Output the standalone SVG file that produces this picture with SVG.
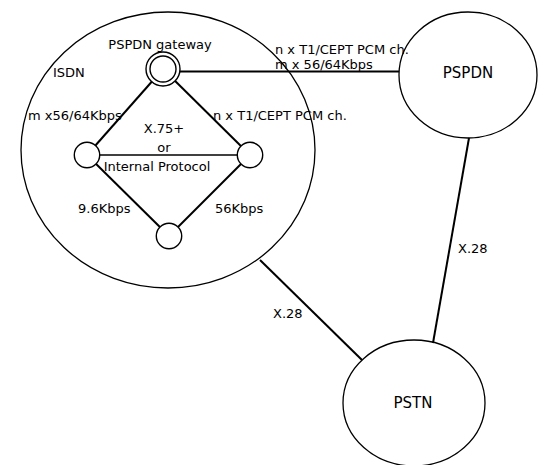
<svg xmlns="http://www.w3.org/2000/svg" width="545" height="465" viewBox="0 0 545 465">
<style>
.bg{fill:#fff}
.net{fill:none;stroke:#000;stroke-width:1.3}
.node{fill:#fff;stroke:#000;stroke-width:1.4}
.link{stroke:#000;stroke-width:2;fill:none}
.thin{stroke:#000;stroke-width:1.3;fill:none}
text{font-family:"DejaVu Sans",sans-serif;font-size:13px;fill:#000}
.big{font-size:15px}
.mid{text-anchor:middle}
</style>
<rect class="bg" x="0" y="0" width="545" height="465"/>
<g id="connectors">
<line class="link" x1="163" y1="71.5" x2="399" y2="71.5"/>
<line class="link" x1="163" y1="69" x2="87" y2="155"/>
<line class="link" x1="163" y1="69" x2="250" y2="155"/>
<line class="thin" x1="87" y1="155" x2="250" y2="155"/>
<line class="link" x1="87" y1="155" x2="169" y2="236"/>
<line class="link" x1="250" y1="155" x2="169" y2="236"/>
<line class="link" x1="469" y1="138" x2="433" y2="343"/>
<line class="link" x1="260" y1="260" x2="362" y2="360"/>
</g>
<g id="isdn">
<ellipse class="net" cx="168" cy="150" rx="147" ry="138"/>
<text x="53" y="77">ISDN</text>
</g>
<g id="gateway">
<circle class="node" cx="163" cy="69" r="17"/>
<circle class="node" cx="163" cy="69" r="13"/>
<text class="mid" x="160" y="49">PSPDN gateway</text>
</g>
<g id="node-left"><circle class="node" cx="87" cy="155" r="12.7"/></g>
<g id="node-right"><circle class="node" cx="250" cy="155" r="12.7"/></g>
<g id="node-bottom"><circle class="node" cx="169" cy="236" r="12.7"/></g>
<g id="pspdn">
<ellipse class="net" cx="468" cy="75" rx="69" ry="63"/>
<text class="big mid" x="468" y="78">PSPDN</text>
</g>
<g id="pstn">
<ellipse class="net" cx="414" cy="403" rx="71" ry="63"/>
<text class="big mid" x="413" y="408">PSTN</text>
</g>
<g id="labels">
<text x="28" y="120">m x56/64Kbps</text>
<text class="mid" x="164" y="133">X.75+</text>
<text class="mid" x="164" y="152">or</text>
<text class="mid" x="157" y="171">Internal Protocol</text>
<text x="213" y="120">n x T1/CEPT PCM ch.</text>
<text x="78" y="213">9.6Kbps</text>
<text x="215" y="213">56Kbps</text>
<text x="275" y="54">n x T1/CEPT PCM ch.</text>
<text x="275" y="69">m x 56/64Kbps</text>
<text x="458" y="253">X.28</text>
<text x="273" y="318">X.28</text>
</g>
</svg>
